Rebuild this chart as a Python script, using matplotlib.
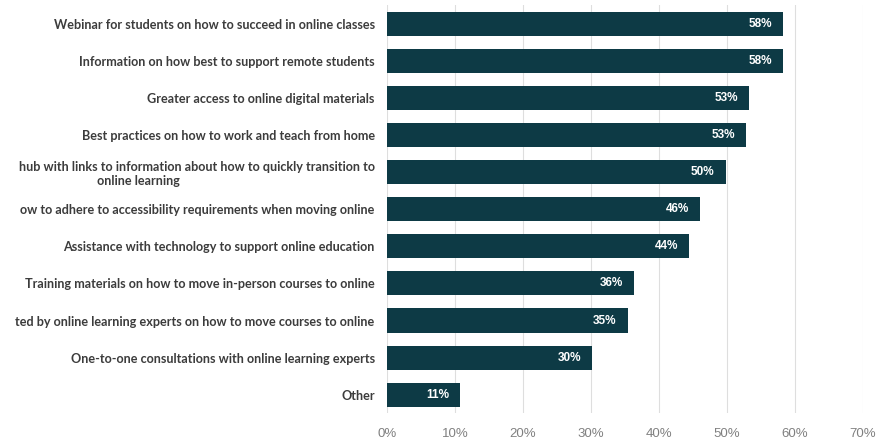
import matplotlib
matplotlib.use("Agg")
import matplotlib.pyplot as plt
from matplotlib.ticker import PercentFormatter

# Survey options, top to bottom (visible text as it appears in the chart)
categories = [
    "Webinar for students on how to succeed in online classes",
    "Information on how best to support remote students",
    "Greater access to online digital materials",
    "Best practices on how to work and teach from home",
    "hub with links to information about how to quickly transition to\n"
    + " " * 25 + "online learning",
    "ow to adhere to accessibility requirements when moving online",
    "Assistance with technology to support online education",
    "Training materials on how to move in-person courses to online",
    "ted by online learning experts on how to move courses to online",
    "One-to-one consultations with online learning experts",
    "Other",
]
values = [58.3, 58.2, 53.3, 52.8, 49.8, 46.0, 44.4, 36.3, 35.4, 30.2, 10.7]
value_labels = ["58%", "58%", "53%", "53%", "50%", "46%", "44%", "36%", "35%", "30%", "11%"]
x_ticks = [0, 10, 20, 30, 40, 50, 60, 70]

BAR_COLOR = "#0d3a45"
LABEL_COLOR = "#3c3c3c"
TICK_COLOR = "#808080"
GRID_COLOR = "#dedede"

fig = plt.figure(figsize=(8.92, 4.40), dpi=100)
ax = fig.add_axes([0.434, 0.061, 0.9675 - 0.434, 0.9265])

y = list(range(len(categories)))
ax.barh(y, values, height=0.65, color=BAR_COLOR, zorder=2)

for yi, v, lab in zip(y, values, value_labels):
    ax.annotate(lab, (v, yi), xytext=(-8, 0), textcoords="offset points",
                ha="right", va="center", color="white", fontsize=8.5,
                fontweight="bold", family="Liberation Sans")

ax.set_ylim(len(categories) - 0.5, -0.5)
ax.set_xlim(0, 70)
ax.set_xticks(x_ticks)
ax.xaxis.set_major_formatter(PercentFormatter(decimals=0))
ax.set_yticks(y)
ax.set_yticklabels(categories, fontsize=9.1, fontweight="bold", color=LABEL_COLOR,
                   family="Lato", multialignment="left")

ax.tick_params(axis="y", length=0, pad=9)
ax.tick_params(axis="x", length=0, pad=11, labelcolor=TICK_COLOR, labelsize=9.5)
for t in ax.get_xticklabels():
    t.set_family("Liberation Sans")

ax.grid(axis="x", color=GRID_COLOR, linewidth=0.8, zorder=0)
ax.set_axisbelow(True)
for s in ax.spines.values():
    s.set_visible(False)

fig.savefig("out.png", dpi=100, facecolor="white")
